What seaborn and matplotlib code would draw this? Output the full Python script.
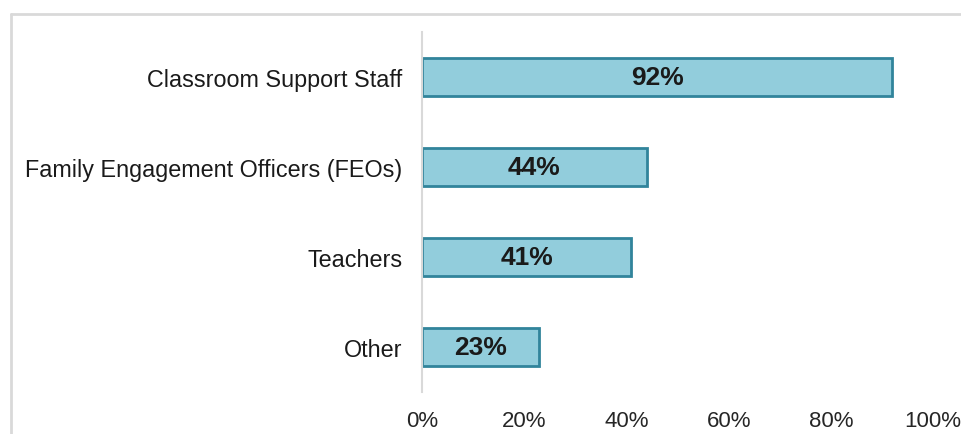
import matplotlib
matplotlib.use("Agg")
import matplotlib.pyplot as plt
from matplotlib.lines import Line2D
import seaborn as sb
import pandas as pd

categories = ["Classroom Support Staff", "Family Engagement Officers (FEOs)", "Teachers", "Other"]
values = [92, 44, 41, 23]

data = pd.DataFrame({"group": categories, "pct": values})

sb.set_style("white")
plt.rcParams["font.family"] = ["Liberation Sans", "DejaVu Sans"]

fig = plt.figure(figsize=(9.61, 4.35), dpi=100)
ax = fig.add_axes([0.439, 0.097, 0.532, 0.827])

sb.barplot(data=data, y="group", x="pct", orient="h", ax=ax, width=0.42,
           color="#92CDDC", edgecolor="#31849B", linewidth=2, saturation=1)

for bar, v in zip(ax.patches, values):
    ax.text(bar.get_width() / 2, bar.get_y() + bar.get_height() / 2, f"{v}%",
            ha="center", va="center", fontsize=19, fontweight="bold", color="#1a1a1a")

ax.set_xlim(0, 100)
ax.set_xticks(range(0, 101, 20))
ax.set_xticklabels([f"{t}%" for t in range(0, 101, 20)])
ax.set_xlabel("")
ax.set_ylabel("")
ax.tick_params(axis="x", length=0, pad=13, labelsize=16, colors="#262626")
ax.tick_params(axis="y", length=0, pad=14, labelsize=16.8, colors="#1a1a1a")
for s in ["top", "right", "bottom"]:
    ax.spines[s].set_visible(False)
ax.spines["left"].set_color("#d9d9d9")
ax.spines["left"].set_linewidth(1.5)

# outer chart frame (only top and left edges visible in the crop)
fig.add_artist(Line2D([11 / 961, 11 / 961], [0, 1 - 15 / 435], transform=fig.transFigure,
                      color="#d9d9d9", lw=2))
fig.add_artist(Line2D([11 / 961, 1], [1 - 15 / 435, 1 - 15 / 435], transform=fig.transFigure,
                      color="#d9d9d9", lw=2))

fig.savefig("out.png", dpi=100)
